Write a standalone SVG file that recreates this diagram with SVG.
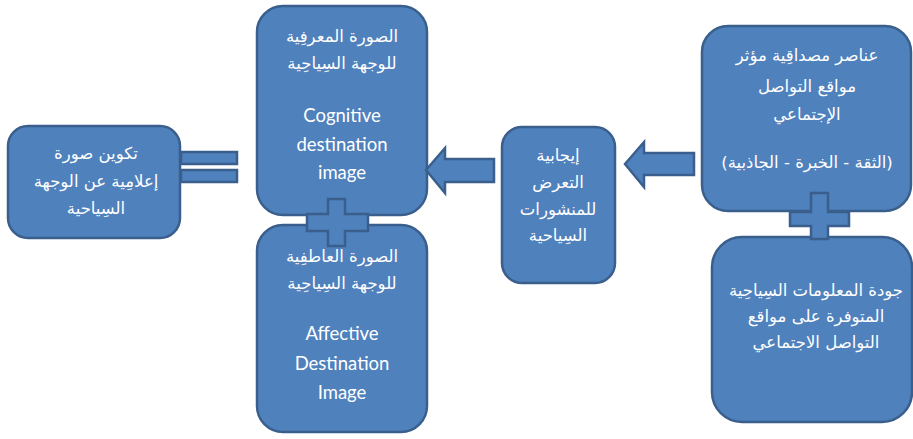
<svg xmlns="http://www.w3.org/2000/svg" width="913" height="439" viewBox="0 0 913 439">
  <style>
    .box { fill: #4F81BD; stroke: #3A5F8C; stroke-width: 2.5; }
    .sym { fill: #4F81BD; stroke: #3A5F8C; stroke-width: 2.5; stroke-linejoin: miter; }
    .ar { font-family: "DejaVu Sans", "Noto Sans", sans-serif; font-size: 16.5px; fill: #ffffff; text-anchor: middle; direction: rtl; }
    .en { font-family: Lato, "Open Sans", sans-serif; font-size: 18.5px; fill: #ffffff; text-anchor: middle; }
  </style>
  <rect width="913" height="439" fill="#ffffff"/>

  <!-- nodes -->
  <g id="node-media-image">
    <rect class="box" x="8" y="126" width="172" height="112" rx="20"/>
    <text class="ar" x="96" y="159">تكوين صورة</text>
    <text class="ar" x="96" y="187">إعلامِية عن الوجهة</text>
    <text class="ar" x="96" y="214">السِياحية</text>
  </g>

  <g id="node-cognitive">
    <rect class="box" x="257" y="6" width="170" height="209" rx="26"/>
    <text class="ar" x="342" y="42">الصورة المعرفِية</text>
    <text class="ar" x="342" y="69">للوجهة السِياحِية</text>
    <text class="en" x="342" y="122">Cognitive</text>
    <text class="en" x="342" y="151">destination</text>
    <text class="en" x="342" y="179">image</text>
  </g>

  <g id="node-affective">
    <rect class="box" x="257" y="225" width="170" height="207" rx="26"/>
    <text class="ar" x="342" y="262">الصورة العاطفِية</text>
    <text class="ar" x="342" y="289">للوجهة السِياحِية</text>
    <text class="en" x="342" y="340">Affective</text>
    <text class="en" x="342" y="370">Destination</text>
    <text class="en" x="342" y="399">Image</text>
  </g>

  <g id="node-exposure">
    <rect class="box" x="502" y="127" width="113" height="156" rx="20"/>
    <text class="ar" x="558" y="161">إيجابية</text>
    <text class="ar" x="558" y="188">التعرض</text>
    <text class="ar" x="558" y="215">للمنشورات</text>
    <text class="ar" x="558" y="241">السِياحية</text>
  </g>

  <g id="node-credibility">
    <rect class="box" x="702" y="26" width="209" height="185" rx="26"/>
    <text class="ar" x="807" y="61">عناصر مصداقِية مؤثر</text>
    <text class="ar" x="807" y="92">مواقع التواصل</text>
    <text class="ar" x="807" y="120">الإجتماعي</text>
    <text class="ar" x="807" y="168">(الثقة - الخبرة - الجاذبية)</text>
  </g>

  <g id="node-information-quality">
    <rect class="box" x="712" y="237" width="200" height="185" rx="30"/>
    <text class="ar" x="816" y="296">جودة المعلومات السِياحِية</text>
    <text class="ar" x="816" y="322">المتوفرة على مواقع</text>
    <text class="ar" x="816" y="348">التواصل الاجتماعي</text>
  </g>

  <!-- connectors: arrows, plus signs and equals sign -->
  <g id="connectors">
    <polygon class="sym" points="426,170 445,148 445,159 494,159 494,182 445,182 445,193"/>
    <polygon class="sym" points="625,164 644,142 644,153 694,153 694,175 644,175 644,187"/>
    <polygon class="sym" points="328,199 345,199 345,214 368,214 368,231 345,231 345,246 328,246 328,231 307,231 307,214 328,214"/>
    <polygon class="sym" points="811,193 828,193 828,212 849,212 849,226 828,226 828,239 811,239 811,226 790,226 790,212 811,212"/>
    <rect class="sym" x="181" y="152" width="56" height="12"/>
    <rect class="sym" x="181" y="170" width="56" height="12"/>
  </g>
</svg>
